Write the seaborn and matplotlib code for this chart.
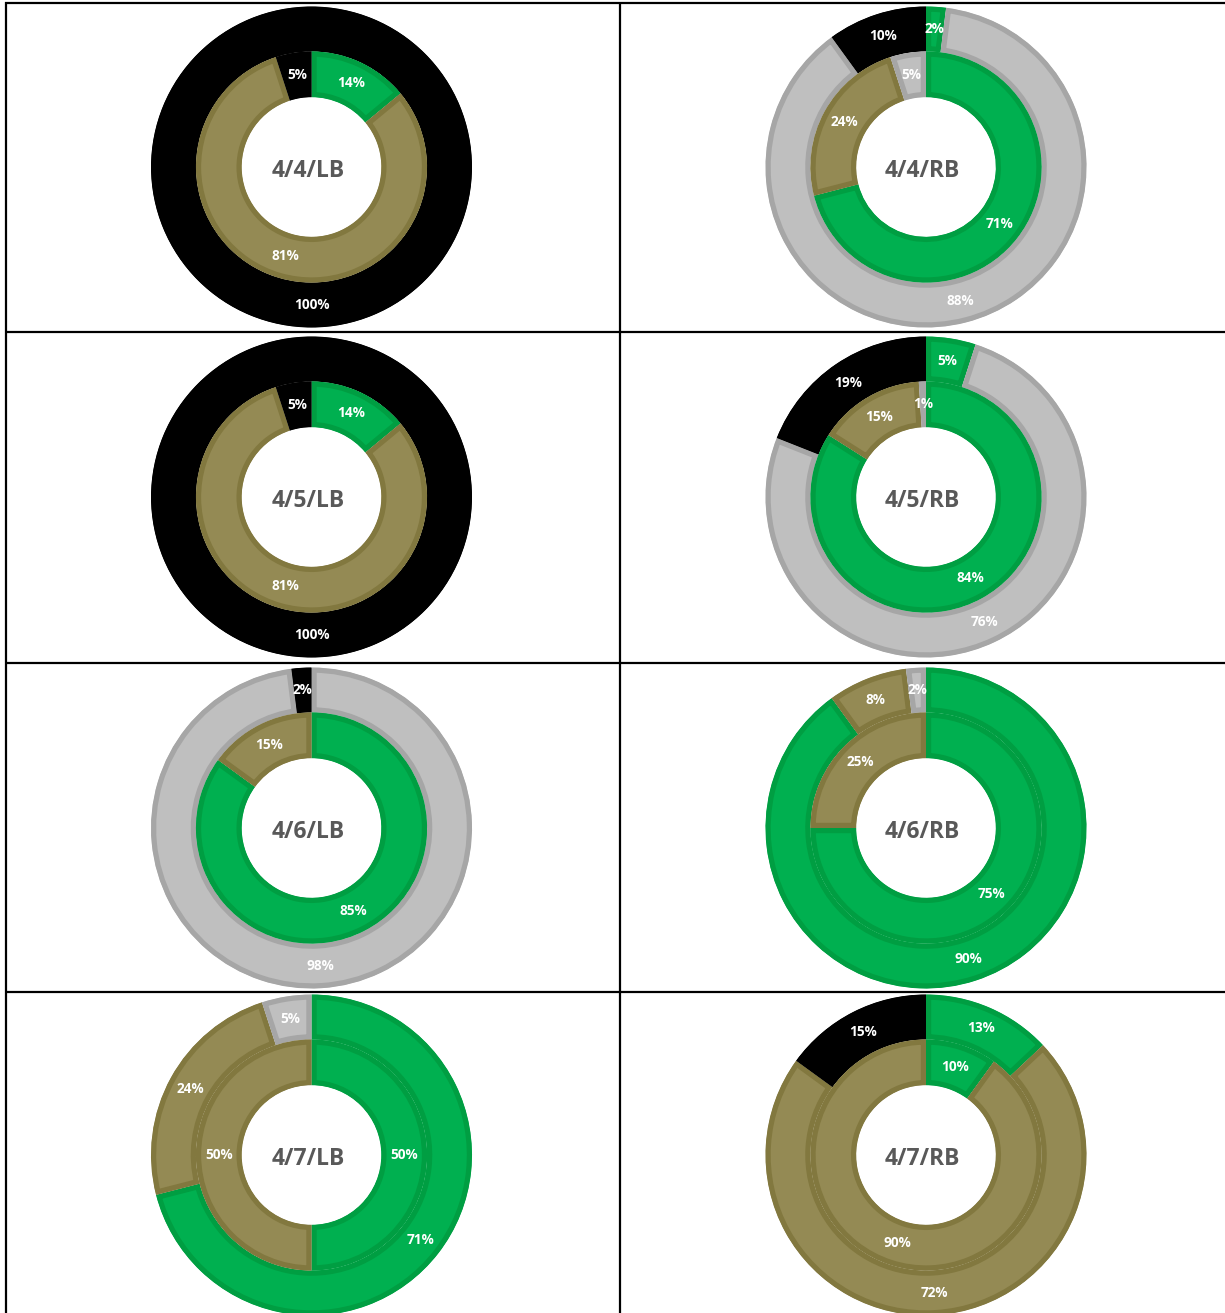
import matplotlib
matplotlib.use("Agg")
import matplotlib.pyplot as plt
from matplotlib.lines import Line2D
import seaborn as sns

sns.set_theme(style="white")
plt.rcParams["font.family"] = ["Open Sans", "DejaVu Sans"]

# Segment categories, drawn clockwise from 12 o'clock in this order
categories = ["green", "olive", "gray", "black"]
fill_colors = ["#00B050", "#948A54", "#BFBFBF", "#000000"]
edge_colors = ["#009E42", "#82783F", "#A6A6A6", "#000000"]

chart_titles = ["4/4/LB", "4/4/RB",
                "4/5/LB", "4/5/RB",
                "4/6/LB", "4/6/RB",
                "4/7/LB", "4/7/RB"]

# Outer ring shares (%) per chart: green, olive, gray, black
outer_values = [
    [0, 0, 0, 100],
    [2, 0, 88, 10],
    [0, 0, 0, 100],
    [5, 0, 76, 19],
    [0, 0, 98, 2],
    [90, 8, 2, 0],
    [71, 24, 5, 0],
    [13, 72, 0, 15],
]

# Inner ring shares (%) per chart: green, olive, gray, black
inner_values = [
    [14, 81, 0, 5],
    [71, 24, 5, 0],
    [14, 81, 0, 5],
    [84, 15, 1, 0],
    [85, 15, 0, 0],
    [75, 25, 0, 0],
    [50, 50, 0, 0],
    [10, 90, 0, 0],
]

W, H = 1225, 1313
fig = plt.figure(figsize=(W / 100, H / 100), dpi=100)
fig.patch.set_facecolor("white")

col_cx = [311.5, 926.0]
row_cy = [167.0, 497.0, 828.0, 1155.0]
R = 160.5      # donut radius in pixels
PAD = 8.0

HOLE = 0.435
INNER_R = 0.72


def draw_ring(ax, values, radius, width):
    vals = [v for v in values if v > 0]
    fills = [f for v, f in zip(values, fill_colors) if v > 0]
    edges = [e for v, e in zip(values, edge_colors) if v > 0]
    mid = radius - width / 2.0
    wedges, _, autotexts = ax.pie(
        vals, colors=fills, radius=radius, startangle=90, counterclock=False,
        autopct=lambda p: f"{p:.0f}%", pctdistance=mid / radius,
        wedgeprops=dict(width=width, linewidth=7.5),
        textprops=dict(color="white", fontsize=9.8, fontweight="bold"),
    )
    # darker border kept inside each segment: clip the stroke to the segment itself
    for w, e in zip(wedges, edges):
        w.set_edgecolor(e)
        w.set_clip_on(True)
        w.set_clip_path(w)
    for t in autotexts:
        t.set_zorder(5)


for i, title in enumerate(chart_titles):
    r, c = divmod(i, 2)
    cx, cy = col_cx[c], row_cy[r]
    half = R + PAD
    ax = fig.add_axes([(cx - half) / W, 1 - (cy + half) / H, 2 * half / W, 2 * half / H])
    draw_ring(ax, outer_values[i], radius=1.0, width=1.0 - INNER_R)
    draw_ring(ax, inner_values[i], radius=INNER_R, width=INNER_R - HOLE)
    lim = half / R
    ax.set_xlim(-lim, lim)
    ax.set_ylim(-lim, lim)
    ax.set_aspect("equal")
    ax.axis("off")
    ax.text(-0.02, -0.025, title, ha="center", va="center", fontsize=16.5,
            fontweight="bold", color="#595959", zorder=6)


# Table grid
def fig_line(x0, y0, x1, y1):
    fig.add_artist(Line2D([x0 / W, x1 / W], [1 - y0 / H, 1 - y1 / H],
                          transform=fig.transFigure, color="black",
                          linewidth=1.6, solid_capstyle="butt", zorder=10))


for y in [2.5, 332, 663, 992]:
    fig_line(4.5, y, W, y)
for x in [5.5, 620]:
    fig_line(x, 1.5, x, H)

fig.savefig("out.png", dpi=100, facecolor="white")
